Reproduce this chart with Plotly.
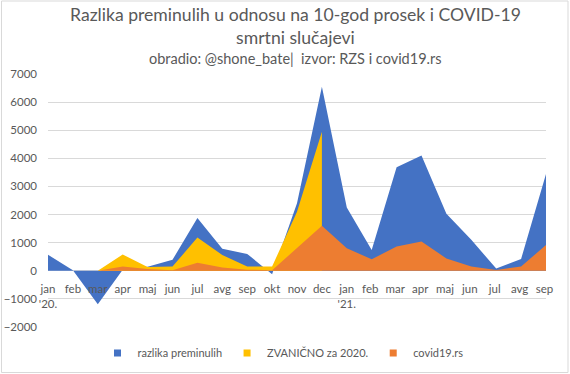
import plotly.graph_objects as go

months = ["jan<br>'20.", "feb", "mar", "apr", "maj", "jun", "jul", "avg", "sep", "okt", "nov", "dec",
          "jan<br>'21.", "feb ", "mar ", "apr ", "maj ", "jun ", "jul ", "avg ", "sep "]

razlika = [570, 20, -1190, 40, 140, 390, 1880, 780, 600, -120, 2400, 6550,
           2250, 740, 3680, 4100, 2030, 1100, 80, 420, 3440]
zvanicno = [None, None, 0, 580, 130, 150, 1180, 560, 150, 150, 2100, 4950,
            None, None, None, None, None, None, None, None, None]
covid = [0, 0, 0, 150, 60, 20, 290, 120, 40, 20, 800, 1600,
         800, 410, 860, 1040, 440, 150, 30, 150, 920]

names = ["razlika preminulih", "ZVANIČNO za 2020.", "covid19.rs"]
colors = ["#4472C4", "#FFC000", "#ED7D31"]
series = [razlika, zvanicno, covid]

x = list(range(len(months)))

fig = go.Figure()
for name, col, vals in zip(names, colors, series):
    fig.add_trace(go.Scatter(x=x, y=vals, name=name, mode="lines", showlegend=False,
                             legendgroup=name, line=dict(width=0, color=col),
                             fill="tozeroy", fillcolor=col, hoverinfo="x+y+name"))
for name, col in zip(names, colors):
    fig.add_trace(go.Scatter(x=[None], y=[None], name=name, mode="markers", legendgroup=name,
                             marker=dict(symbol="square", size=7, color=col)))

font = "Lato"
grey = "#595959"
PW, PH = 498, 253
fig.update_layout(
    width=570, height=374,
    margin=dict(l=48, r=24, t=74, b=47, autoexpand=False),
    paper_bgcolor="white", plot_bgcolor="white",
    font=dict(family=font, color=grey, size=11),
    showlegend=True,
    legend=dict(orientation="h", x=(283 - 48) / PW, xanchor="center", y=(327 - 353) / PH, yanchor="middle",
                font=dict(size=11, color=grey), traceorder="normal", itemwidth=30),
    xaxis=dict(range=[0, 20], tickmode="array", tickvals=x, ticktext=months,
               anchor="free", position=2/9, showgrid=False, zeroline=False, automargin=False,
               showline=False, ticks="outside", ticklen=7, tickcolor="rgba(0,0,0,0)",
               tickfont=dict(size=11.5, color=grey), tickangle=0),
    yaxis=dict(range=[-2000, 7000], dtick=1000, showgrid=True, gridcolor="#D9D9D9",
               zeroline=True, zerolinecolor="#D9D9D9", zerolinewidth=1, automargin=False,
               tickfont=dict(size=11.5, color=grey), ticklabelstandoff=10),
    annotations=[
        dict(text="Razlika preminulih u odnosu na 10-god prosek i COVID-19<br>smrtni slučajevi",
             xref="paper", yref="paper", x=(295 - 48) / PW, y=(327 - 25.5) / PH,
             xanchor="center", yanchor="middle",
             showarrow=False, font=dict(size=17.6, color=grey, family=font)),
        dict(text="obradio: @shone_bate|  izvor: RZS i covid19.rs",
             xref="paper", yref="paper", x=(295 - 48) / PW, y=(327 - 59) / PH,
             xanchor="center", yanchor="middle",
             showarrow=False, font=dict(size=14.5, color=grey, family=font)),
    ],
    shapes=[dict(type="rect", xref="paper", yref="paper",
                 x0=(1.5 - 48) / PW, x1=(568 - 48) / PW, y0=(327 - 372.5) / PH, y1=(327 - 1) / PH,
                 line=dict(color="#D9D9D9", width=1), layer="below")],
)

fig.write_html("out.html", config={"displayModeBar": False},
               post_script="document.body.style.margin='0';document.body.style.overflow='hidden';")
